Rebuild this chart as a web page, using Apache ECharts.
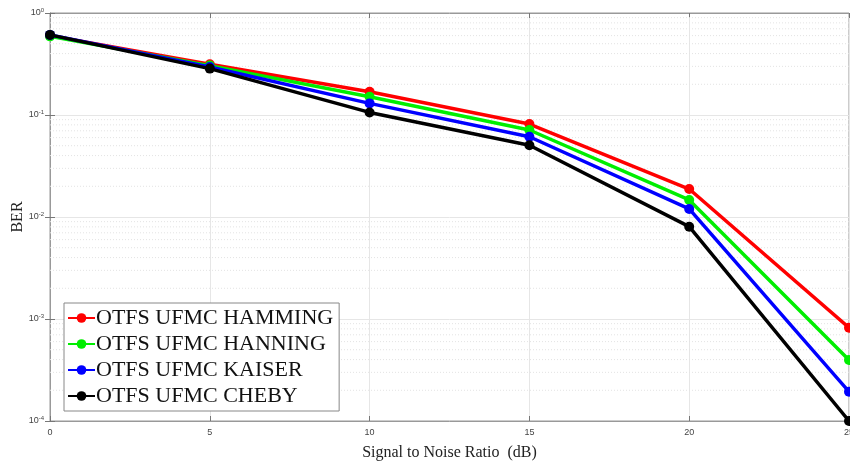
<!DOCTYPE html>
<html>
<head>
<meta charset="utf-8">
<script src="https://cdn.jsdelivr.net/npm/echarts@6/dist/echarts.min.js"></script>
<style>
  html, body { margin: 0; padding: 0; background: #fff; }
  #main { width: 850px; height: 462px; }
</style>
</head>
<body>
<div id="main"></div>
<script>
// SNR points (dB)
var snr = [0, 5, 10, 15, 20, 25];

// BER per window
var berHamming = [0.60, 0.315, 0.169, 0.0816, 0.0188, 0.00082];
var berHanning = [0.59, 0.305, 0.151, 0.0713, 0.0147, 0.000396];
var berKaiser  = [0.61, 0.295, 0.130, 0.0612, 0.0120, 0.000194];
var berCheby   = [0.61, 0.285, 0.106, 0.0505, 0.00804, 0.0001];

var seriesNames = ['OTFS UFMC HAMMING', 'OTFS UFMC HANNING', 'OTFS UFMC KAISER', 'OTFS UFMC CHEBY'];
var seriesColors = ['#ff0000', '#00ee00', '#0000ff', '#000000'];

// minor grid values between decades (2..9 x 10^k)
var minorVals = [];
for (var k = -4; k < 0; k++) {
    for (var m = 2; m <= 9; m++) {
        minorVals.push(m * Math.pow(10, k));
    }
}

var chart = echarts.init(document.getElementById('main'));

function pairs(ys) {
    return snr.map(function (x, i) { return [x, ys[i]]; });
}

var tickFont = { fontFamily: 'Liberation Sans', fontSize: 9, color: '#444' };

// dotted minor grid, drawn as flat series through the log scale
var minorSeries = minorVals.map(function (v) {
    return {
        name: 'minor',
        type: 'line',
        data: [[0, v], [25, v]],
        symbol: 'none',
        silent: true,
        z: 1,
        lineStyle: { color: '#e3e3e3', type: [1, 2], width: 1 }
    };
});

var mainSeries = [berHamming, berHanning, berKaiser, berCheby].map(function (ys, i) {
    return {
        name: seriesNames[i],
        type: 'line',
        data: pairs(ys),
        symbol: 'circle',
        symbolSize: 10,
        z: 3 + i,
        lineStyle: { width: 3.5, color: seriesColors[i] },
        itemStyle: { color: seriesColors[i] },
        clip: false
    };
});

var option = {
    animation: false,
    backgroundColor: '#fff',
    grid: {
        left: 50, right: 1, top: 13, bottom: 41,
        containLabel: false,
        outerBoundsMode: 'none',
        show: true, borderColor: '#999', borderWidth: 1
    },
    legend: {
        data: seriesNames,
        orient: 'vertical',
        left: 64, top: 303,
        backgroundColor: '#fff',
        borderColor: '#888', borderWidth: 1,
        padding: [3, 6, 3, 3],
        itemGap: 2,
        itemWidth: 27, itemHeight: 12,
        textStyle: { fontFamily: 'Liberation Serif', fontSize: 22, color: '#111', lineHeight: 24, padding: [0, 0, 0, -4] }
    },
    xAxis: [{
        type: 'value', min: 0, max: 25, interval: 5,
        name: 'Signal to Noise Ratio  (dB)', nameLocation: 'middle', nameGap: 24,
        nameTextStyle: { fontFamily: 'Liberation Serif', fontSize: 16, color: '#222' },
        axisLine: { lineStyle: { color: '#999' } },
        axisTick: { inside: true, length: 5, lineStyle: { color: '#777' } },
        axisLabel: Object.assign({ margin: 7 }, tickFont),
        splitLine: { show: true, lineStyle: { color: '#e6e6e6', width: 1 } }
    }, {
        type: 'value', min: 0, max: 25, interval: 5, position: 'top',
        axisLine: { lineStyle: { color: '#999' } },
        axisTick: { inside: true, length: 5, lineStyle: { color: '#777' } },
        axisLabel: { show: false },
        splitLine: { show: false }
    }],
    yAxis: [{
        type: 'log', logBase: 10, min: 0.0001, max: 1,
        name: 'BER', nameLocation: 'middle', nameGap: 24,
        nameMoveOverlap: false,
        nameTextStyle: { fontFamily: 'Liberation Serif', fontSize: 16, color: '#222' },
        axisLine: { show: true, lineStyle: { color: '#999' } },
        axisTick: { inside: true, length: 5, lineStyle: { color: '#777' } },
        axisLabel: Object.assign({
            margin: 6,
            formatter: function (v) {
                var e = String(Math.round(Math.log10(v)));
                return '{b|10}{s|' + e + '}';
            },
            rich: {
                b: { fontFamily: 'Liberation Sans', fontSize: 9, color: '#444' },
                s: { fontFamily: 'Liberation Sans', fontSize: 6, color: '#444', verticalAlign: 'top', padding: [0, 0, 6, 0] }
            }
        }, tickFont),
        splitLine: { show: true, lineStyle: { color: '#e6e6e6', width: 1 } }
    }, {
        type: 'log', logBase: 10, min: 0.0001, max: 1, position: 'right',
        axisLine: { show: true, lineStyle: { color: '#999' } },
        axisTick: { inside: true, length: 5, lineStyle: { color: '#777' } },
        axisLabel: { show: false },
        splitLine: { show: false }
    }],
    series: minorSeries.concat(mainSeries)
};

chart.setOption(option);
</script>
</body>
</html>
